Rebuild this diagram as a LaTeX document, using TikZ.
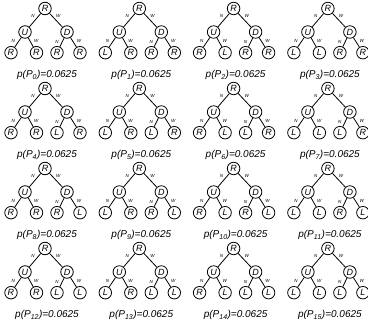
\documentclass[tikz,border=0pt]{standalone}
\usepackage{fontspec}
\setmainfont{Liberation Sans}
\tikzset{
  tnode/.style={draw, circle, line width=0.8pt, minimum size=12.5pt, inner sep=0pt, font=\fontsize{9}{9}\selectfont\itshape},
  elabel/.style={font=\fontsize{4.5}{4.5}\selectfont\itshape, inner sep=1pt},
  nlab/.style={elabel, left, xshift=-2.5pt},
  wlab/.style={elabel, right, xshift=2.5pt},
  tedge/.style={line width=0.8pt},
  plabel/.style={font=\fontsize{10}{10}\selectfont\itshape}
}

\begin{document}
\begin{tikzpicture}[x=1pt,y=-1pt]
  \useasboundingbox (0,0) rectangle (368,323);

  % 16 trees, 4 per row
  \foreach \k in {0,...,15} {
    \pgfmathtruncatemacro{\col}{mod(\k,4)}
    \pgfmathtruncatemacro{\row}{int(\k/4)}
    \pgfmathtruncatemacro{\ba}{mod(\k,2)}
    \pgfmathtruncatemacro{\bb}{mod(int(\k/2),2)}
    \pgfmathtruncatemacro{\bc}{mod(int(\k/4),2)}
    \pgfmathtruncatemacro{\bd}{mod(int(\k/8),2)}
    \begin{scope}[shift={(94.3*\col,80*\row)}]
      % root and inner nodes
      \node[tnode] (r\k) at (45,8.5) {R};
      \node[tnode] (u\k) at (25,32) {U};
      \node[tnode] (d\k) at (67,32) {D};

      % leaves
      \node[tnode] (la\k) at (11,52.7) {\ifnum\ba=1 L\else R\fi};
      \node[tnode] (lb\k) at (36.5,52.7) {\ifnum\bb=1 L\else R\fi};
      \node[tnode] (lc\k) at (57,52.7) {\ifnum\bc=1 L\else R\fi};
      \node[tnode] (ld\k) at (80,52.7) {\ifnum\bd=1 L\else R\fi};

      % edges
      \draw[tedge] (r\k) -- node[nlab, pos=0.2] {N} (u\k);
      \draw[tedge] (r\k) -- node[wlab, pos=0.2] {W} (d\k);
      \draw[tedge] (u\k) -- node[nlab, pos=0.4] {N} (la\k);
      \draw[tedge] (u\k) -- node[wlab, pos=0.4] {W} (lb\k);
      \draw[tedge] (d\k) -- node[nlab, pos=0.4] {N} (lc\k);
      \draw[tedge] (d\k) -- node[wlab, pos=0.4] {W} (ld\k);

      % probability
      \node[plabel] (p\k) at (47,75) {p(P\textsubscript{\k})=0.0625};
    \end{scope}
  }
\end{tikzpicture}
\end{document}
